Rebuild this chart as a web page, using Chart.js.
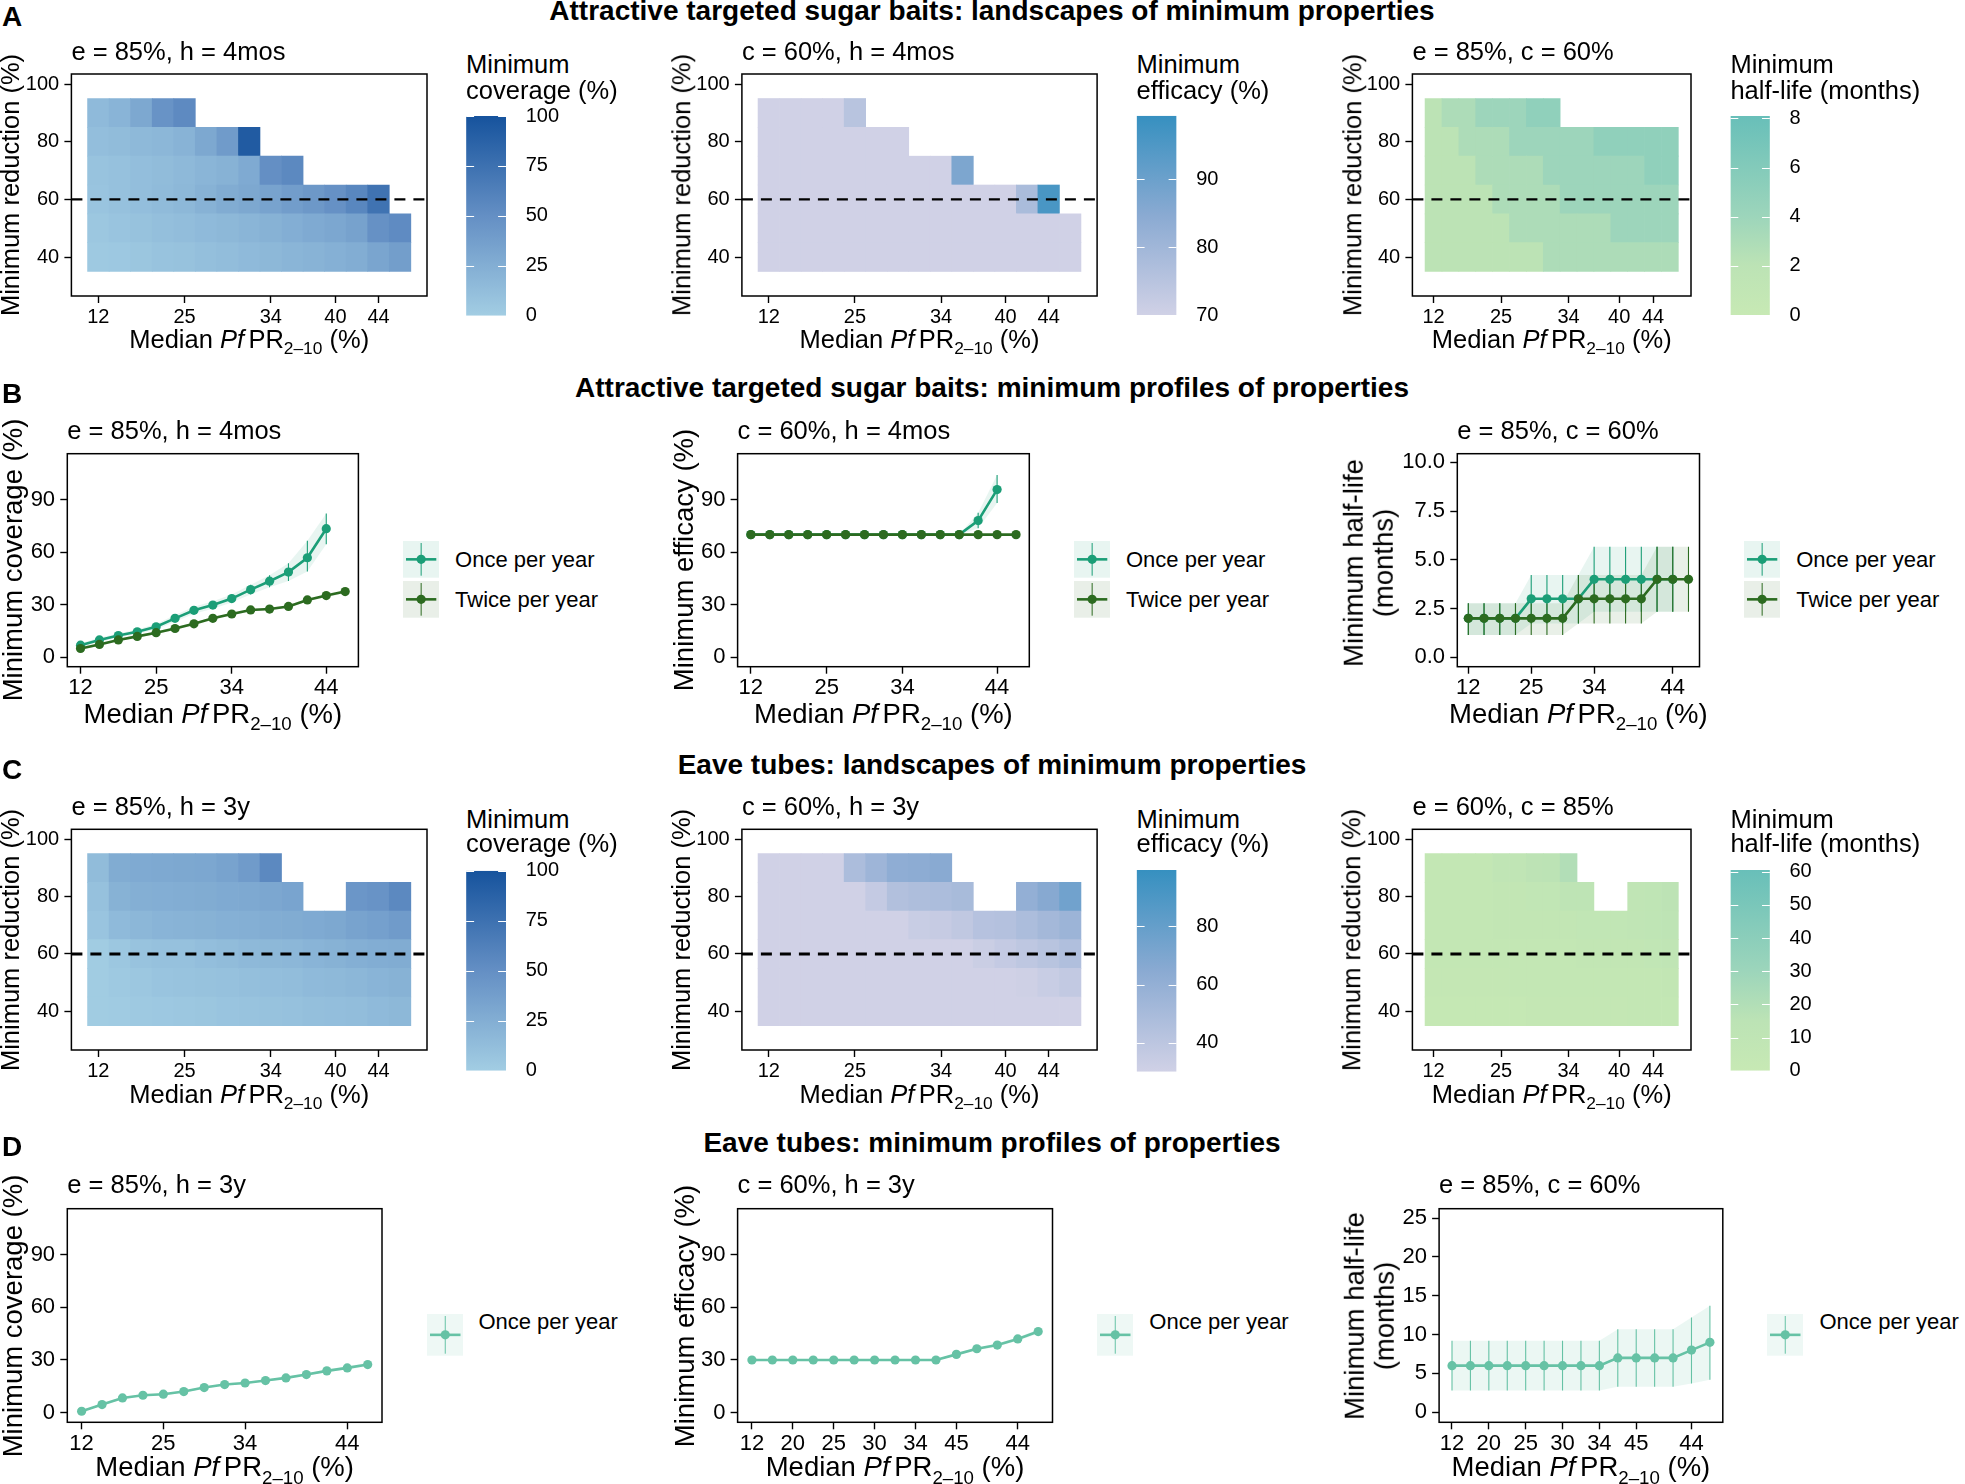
<!DOCTYPE html>
<html><head><meta charset="utf-8">
<script src="https://cdn.jsdelivr.net/npm/chart.js@4.4.1/dist/chart.umd.min.js"></script>
<style>
html,body{margin:0;padding:0;background:#fff}
body{width:1965px;height:1484px;position:relative;overflow:hidden;font-family:"Liberation Sans",Arial,Helvetica,sans-serif;color:#000}
.t{position:absolute;white-space:nowrap;line-height:1}
canvas{position:absolute}
</style></head><body>
<script>
// ================= DATA =================
const reductionLevels = [40, 50, 60, 70, 80, 90];
const reductionStep = 10;
const reductionTarget = 60;
const heatYTicks = [40, 60, 80, 100];
const heatXTickIdx = [0, 4, 8, 11, 13];
const heatXTickLabels = ['12', '25', '34', '40', '44'];
const profXTickIdx = [0, 4, 8, 13];
const profXTickLabels = ['12', '25', '34', '44'];
const eaveXTickIdx = [0, 2, 4, 6, 8, 10, 13];
const eaveXTickLabels = ['12', '20', '25', '30', '34', '45', '44'];
const seriesNames = ['Once per year', 'Twice per year'];
const _ = null;

// A: ATSB landscapes (rows = reduction 40..90, columns = settings 0..14)
const atsbCoverageGrid = [
  [3, 4, 6, 8, 9, 11, 13, 15, 17, 19, 21, 23, 26, 32, 38],
  [5, 7, 9, 11, 13, 15, 17, 19, 22, 25, 28, 31, 35, 48, 53],
  [7, 10, 12, 14.5, 17, 22, 27, 30, 33.5, 38.6, 43, 48.6, 57, 73],
  [8, 10, 12, 14, 16, 19, 22, 28, 50, 55],
  [12, 14, 16, 18, 21, 30, 40, 93],
  [15, 20, 30, 47, 54]
];
const atsbEfficacyGrid = [
  [70, 70, 70, 70, 70, 70, 70, 70, 70, 70, 70, 70, 70, 70, 70],
  [70, 70, 70, 70, 70, 70, 70, 70, 70, 70, 70, 70, 70, 70, 70],
  [70, 70, 70, 70, 70, 70, 70, 70, 70, 70, 70, 70, 78, 96],
  [70, 70, 70, 70, 70, 70, 70, 70, 70, 87],
  [70, 70, 70, 70, 70, 70, 70],
  [70, 70, 70, 70, 75]
];
const atsbHalfLifeGrid = [
  [2, 2, 2, 2, 2, 2, 2, 3, 3, 3, 3, 3, 3, 3, 3],
  [2, 2, 2, 2, 2, 3, 3, 3, 3, 3, 3, 4, 4, 4, 4],
  [2, 2, 2, 2, 3, 3, 3, 3, 4, 4, 4, 4, 4, 4, 4],
  [2, 2, 2, 3, 3, 3, 3, 4, 4, 4, 4, 4, 4, 5, 5],
  [2, 2, 3, 3, 3, 4, 4, 4, 4, 4, 5, 5, 5, 5, 5],
  [2, 3, 3, 4, 4, 4, 5, 5]
];
// C: Eave tube landscapes
const eaveCoverageGrid = [
  [1, 2, 3, 4, 5, 6, 7, 8, 9, 10, 11, 12, 13, 15, 17],
  [1, 3, 5, 7, 8, 9, 10, 11, 12, 13, 15, 16, 18, 20, 22],
  [1, 5, 8, 10, 10, 12, 14, 16, 17, 18, 20, 22, 24, 26, 27],
  [7, 15, 18, 20, 21, 22, 23, 24, 26, 27, 28, 30, 34, 36, 40],
  [10, 22, 24, 25, 26, 27, 28, 29, 31, 33, _, _, 44, 47, 55],
  [14, 27, 28, 29, 30, 31, 34, 40, 55]
];
const eaveEfficacyGrid = [
  [30, 30, 30, 30, 30, 30, 30, 30, 30, 30, 30, 30, 30, 30, 30],
  [30, 30, 30, 30, 30, 30, 30, 30, 30, 30, 30, 30, 31, 34, 37],
  [30, 30, 30, 30, 30, 30, 30, 30, 30, 30, 33, 36, 39, 42, 46],
  [30, 30, 30, 30, 30, 30, 30, 34, 35, 38, 43, 44, 48, 52, 56],
  [30, 30, 30, 30, 30, 36, 45, 47, 48, 50, _, _, 60, 66, 75],
  [30, 30, 30, 30, 48, 55, 62, 63, 65]
];
const eaveHalfLifeGrid = [
  [3, 3, 3, 3, 3, 3, 4, 4, 4, 4, 4, 4, 5, 5, 5],
  [4, 4, 4, 4, 4, 5, 5, 5, 5, 5, 5, 6, 6, 6, 7],
  [6, 6, 6, 6, 6, 6, 6, 6, 6, 7, 7, 7, 7, 8, 9],
  [6, 6, 6, 6, 7, 7, 7, 7, 7, 8, 8, 8, 9, 11, 12],
  [6, 6, 6, 6, 7, 7, 8, 8, 12, 13, _, _, 10, 11, 14],
  [6, 6, 6, 6, 9, 10, 14, 15, 20]
];

// colour bar limits and ticks
const coverageLimits = [0, 100], coverageBarTicks = [0, 25, 50, 75, 100];
const atsbEffLimits = [70, 99.4], atsbEffBarTicks = [70, 80, 90];
const atsbHlLimits = [0, 8.1], atsbHlBarTicks = [0, 2, 4, 6, 8];
const eaveEffLimits = [30, 99.4], eaveEffBarTicks = [40, 60, 80];
const eaveHlLimits = [0, 60.5], eaveHlBarTicks = [0, 10, 20, 30, 40, 50, 60];

// B: ATSB minimum profiles
const atsbCovOnce   = [6.9, 9.9, 12.4, 14.5, 17.4, 22.2, 26.8, 29.8, 33.5, 38.6, 43.4, 48.6, 56.8, 73.4];
const atsbCovOnceLo = [5.8, 8.7, 11.2, 13.2, 15.8, 20.3, 24.8, 27.7, 31.2, 35.8, 40.0, 43.5, 49.0, 64.5];
const atsbCovOnceHi = [8.0, 11.1, 13.6, 15.8, 19.0, 24.1, 28.8, 31.9, 35.8, 41.4, 46.8, 53.7, 66.5, 82.0];
const atsbCovTwice   = [5.0, 7.3, 9.9, 11.9, 14.0, 16.4, 19.1, 22.2, 24.7, 27.0, 27.5, 29.0, 32.7, 35.2, 37.5];
const atsbCovTwiceLo = [4.2, 6.5, 9.1, 11.1, 13.2, 15.6, 18.3, 21.4, 23.9, 26.2, 26.7, 28.2, 31.8, 34.3, 36.5];
const atsbCovTwiceHi = [5.8, 8.1, 10.7, 12.7, 14.8, 17.2, 19.9, 23.0, 25.5, 27.8, 28.3, 29.8, 33.6, 36.1, 38.5];
const atsbEffOnce   = [70, 70, 70, 70, 70, 70, 70, 70, 70, 70, 70, 70, 78, 95.7];
const atsbEffOnceLo = [70, 70, 70, 70, 70, 70, 70, 70, 70, 70, 70, 70, 73.6, 88];
const atsbEffOnceHi = [70, 70, 70, 70, 70, 70, 70, 70, 70, 70, 70, 70, 82.5, 104];
const atsbEffTwice   = [70, 70, 70, 70, 70, 70, 70, 70, 70, 70, 70, 70, 70, 70, 70];
const atsbEffTwiceLo = [70, 70, 70, 70, 70, 70, 70, 70, 70, 70, 70, 70, 70, 70, 70];
const atsbEffTwiceHi = [70, 70, 70, 70, 70, 70, 70, 70, 70, 70, 70, 70, 70, 70, 70];
const atsbHlOnce   = [2, 2, 2, 2, 3, 3, 3, 3, 4, 4, 4, 4, 4, 4];
const atsbHlOnceLo = [1.15, 1.15, 1.15, 1.15, 1.74, 1.74, 1.74, 1.74, 2.34, 2.34, 2.34, 2.34, 2.34, 2.34];
const atsbHlOnceHi = [2.77, 2.77, 2.77, 2.77, 4.22, 4.22, 4.22, 4.22, 5.67, 5.67, 5.67, 5.67, 5.67, 5.67];
const atsbHlTwice   = [2, 2, 2, 2, 2, 2, 2, 3, 3, 3, 3, 3, 4, 4, 4];
const atsbHlTwiceLo = [1.15, 1.15, 1.15, 1.15, 1.15, 1.15, 1.15, 1.74, 1.74, 1.74, 1.74, 1.74, 2.34, 2.34, 2.34];
const atsbHlTwiceHi = [2.77, 2.77, 2.77, 2.77, 2.77, 2.77, 2.77, 4.22, 4.22, 4.22, 4.22, 4.22, 5.67, 5.67, 5.67];

// D: Eave tube minimum profiles
const eaveCovOnce   = [0.8, 4.6, 8.4, 9.9, 10.5, 12.0, 14.3, 16.0, 16.9, 18.3, 19.8, 21.7, 23.8, 25.5, 27.4];
const eaveCovOnceLo = [0.2, 4.0, 7.8, 9.3, 9.9, 11.4, 13.7, 15.4, 16.3, 17.7, 19.2, 21.0, 23.0, 24.6, 26.4];
const eaveCovOnceHi = [1.4, 5.2, 9.0, 10.5, 11.1, 12.6, 14.9, 16.6, 17.5, 18.9, 20.4, 22.4, 24.6, 26.4, 28.4];
const eaveEffOnce   = [30, 30, 30, 30, 30, 30, 30, 30, 30, 30, 33.2, 36.4, 38.5, 42.0, 46.2];
const eaveEffOnceLo = [29.6, 29.6, 29.6, 29.6, 29.6, 29.6, 29.6, 29.6, 29.6, 29.6, 32.5, 35.6, 37.6, 41.0, 45.0];
const eaveEffOnceHi = [30.4, 30.4, 30.4, 30.4, 30.4, 30.4, 30.4, 30.4, 30.4, 30.4, 33.9, 37.2, 39.4, 43.0, 47.4];
const eaveHlOnce   = [6, 6, 6, 6, 6, 6, 6, 6, 6, 7, 7, 7, 7, 8, 9];
const eaveHlOnceLo = [2.8, 2.8, 2.8, 2.8, 2.8, 2.8, 2.8, 2.8, 2.8, 3.3, 3.3, 3.3, 3.3, 3.7, 4.2];
const eaveHlOnceHi = [9.2, 9.2, 9.2, 9.2, 9.2, 9.2, 9.2, 9.2, 9.2, 10.7, 10.7, 10.7, 10.7, 12.2, 13.7];

// ================= STYLE / LAYOUT =================
const SANS = '"Liberation Sans", Arial, Helvetica, sans-serif';
Chart.defaults.font.family = SANS;
Chart.defaults.color = '#000';
const COL_ONCE = '#1b9e77', COL_TWICE = '#2c6b20', COL_EAVE = '#66c2a5';
const FILL_ONCE = 'rgba(27,158,119,0.10)', FILL_TWICE = 'rgba(44,107,32,0.10)', FILL_EAVE = 'rgba(102,194,165,0.13)';
const KEY_ONCE = '#e8f5f1', KEY_TWICE = '#e9efe8', KEY_EAVE = '#eef8f5';
const BLUES = [[0, [162, 205, 227]], [0.5, [100, 143, 196]], [1, [22, 83, 157]]];
const PUBU = [[0, [208, 209, 230]], [0.5, [138, 170, 210]], [1, [54, 144, 192]]];
const GRNS = [[0, [199, 233, 180]], [0.25, [188, 227, 181]], [0.5, [156, 213, 187]], [1, [104, 191, 185]]];

const boxes = {
  A1: [71.4, 427, 74, 296], A2: [741.9, 1097.1, 74, 296], A3: [1412.4, 1691, 74, 296],
  B1: [67.3, 358.4, 453.7, 666.7], B2: [737.6, 1029.3, 453.7, 666.7], B3: [1457.3, 1699.5, 453.7, 666.7],
  C1: [71.4, 427, 829.3, 1050], C2: [741.9, 1097.1, 829.3, 1050], C3: [1412.4, 1691, 829.3, 1050],
  D1: [67.3, 382, 1208.7, 1422.3], D2: [737.6, 1052.5, 1208.7, 1422.3], D3: [1439.1, 1722.8, 1208.7, 1422.3]
};

function mix(stops, t) {
  t = Math.max(0, Math.min(1, t));
  for (let k = 1; k < stops.length; k++) {
    if (t <= stops[k][0]) {
      const [t0, c0] = stops[k - 1], [t1, c1] = stops[k];
      const u = (t - t0) / (t1 - t0);
      return 'rgb(' + c0.map((c, j) => Math.round(c + (c1[j] - c) * u)).join(',') + ')';
    }
  }
  return 'rgb(' + stops[stops.length - 1][1].join(',') + ')';
}
function colorFor(v, lim, stops) { return mix(stops, (v - lim[0]) / (lim[1] - lim[0])); }

function mkCanvas(left, top, w, h) {
  const c = document.createElement('canvas');
  c.width = w; c.height = h;
  c.style.left = left + 'px'; c.style.top = top + 'px';
  c.style.width = w + 'px'; c.style.height = h + 'px';
  document.body.appendChild(c);
  return c;
}
const boxPlugin = {
  id: 'boxBorder',
  afterDraw(chart) {
    const { ctx, chartArea: a } = chart;
    ctx.save(); ctx.strokeStyle = '#000'; ctx.lineWidth = 1.5;
    ctx.strokeRect(a.left, a.top, a.right - a.left, a.bottom - a.top);
    ctx.restore();
  }
};
const whiteTicks = {
  id: 'whiteTicks',
  afterDatasetsDraw(chart) {
    const { ctx, chartArea: a, scales: { y } } = chart;
    const L = (a.right - a.left) / 5;
    ctx.save(); ctx.strokeStyle = '#fff'; ctx.lineWidth = 1;
    y.ticks.forEach(t => {
      const py = Math.round(y.getPixelForValue(t.value)) + 0.5;
      ctx.beginPath();
      ctx.moveTo(a.left, py); ctx.lineTo(a.left + L, py);
      ctx.moveTo(a.right - L, py); ctx.lineTo(a.right, py);
      ctx.stroke();
    });
    ctx.restore();
  }
};

function panelChart(box, o) {
  const left = Math.floor(box[0] - 80), top = Math.floor(box[2] - 24);
  const w = Math.ceil(box[1] + 26) - left, h = Math.ceil(box[3] + 56) - top;
  const padL = box[0] - left, padT = box[2] - top, padR = w - (box[1] - left), padB = h - (box[3] - top);
  const c = mkCanvas(left, top, w, h);
  const gridOpts = { display: true, offset: false, drawOnChartArea: false, drawTicks: true, tickLength: 7, tickWidth: 1.4, tickColor: '#000' };
  return new Chart(c, {
    type: 'line',
    data: { datasets: o.datasets },
    options: {
      responsive: false, animation: false, events: [],
      layout: { padding: { top: padT, right: padR, left: 0, bottom: 0 } },
      plugins: { legend: { display: false }, tooltip: { enabled: false } },
      scales: {
        x: {
          type: 'linear', min: o.xMin, max: o.xMax, offset: false, bounds: 'data',
          afterBuildTicks: s => { s.ticks = o.xTicks.map(v => ({ value: v })); },
          afterFit: s => { s.height = padB; },
          ticks: { autoSkip: false, maxRotation: 0, minRotation: 0, padding: o.xPad, font: { size: o.tickSize }, color: '#000',
                   callback: v => o.xLabels[o.xTicks.indexOf(v)] },
          grid: gridOpts, border: { display: false }
        },
        y: {
          type: 'linear', min: o.yMin, max: o.yMax, offset: false, beginAtZero: false,
          afterBuildTicks: s => { s.ticks = o.yTicks.map(v => ({ value: v })); },
          afterFit: s => { s.width = padL; },
          ticks: { autoSkip: false, padding: 5.2, font: { size: o.tickSize }, color: '#000',
                   callback: v => o.yFmt ? o.yFmt(v) : String(v) },
          grid: gridOpts, border: { display: false }
        }
      }
    },
    plugins: [boxPlugin]
  });
}

const heatX = [-1.25, 15.25], heatY = [26.5, 103.5];
function heatmap(box, grid, lim, stops, dashW) {
  const ds = [{
    type: 'line', data: [{ x: heatX[0], y: reductionTarget }, { x: heatX[1], y: reductionTarget }],
    borderColor: '#000', borderWidth: dashW, borderDash: [11, 8], pointRadius: 0, fill: false, order: 0
  }];
  reductionLevels.forEach((lvl, r) => {
    const data = [], colors = [];
    grid[r].forEach((v, i) => {
      if (v === null || v === undefined) return;
      data.push({ x: i, y: [lvl - reductionStep / 2, lvl + reductionStep / 2] });
      colors.push(colorFor(v, lim, stops));
    });
    ds.push({ type: 'bar', data, backgroundColor: colors, borderWidth: 0, grouped: false,
              barPercentage: 1, categoryPercentage: 1, order: 5 });
  });
  panelChart(box, { datasets: ds, xMin: heatX[0], xMax: heatX[1], yMin: heatY[0], yMax: heatY[1],
    xTicks: heatXTickIdx, xLabels: heatXTickLabels, yTicks: heatYTicks, tickSize: 20, xPad: 2.3 });
}

function colorbar(bar, lim, ticks, stops) {
  const [x0, x1, y0, y1] = bar;
  const left = Math.floor(x0) - 2, top = Math.floor(y0 - 34);
  const w = Math.ceil(x1 + 64) - left, h = Math.ceil(y1 + 34) - top;
  const padL = x0 - left, padT = y0 - top, axisW = w - (x1 - left), padB = h - (y1 - top);
  const c = mkCanvas(left, top, w, h);
  new Chart(c, {
    type: 'bar',
    data: { labels: [''], datasets: [{
      data: [lim],
      backgroundColor: ctx => {
        const a = ctx.chart.chartArea; if (!a) return null;
        const g = ctx.chart.ctx.createLinearGradient(0, a.bottom, 0, a.top);
        stops.forEach(([t, col]) => g.addColorStop(t, 'rgb(' + col.join(',') + ')'));
        return g;
      },
      borderWidth: 0, barPercentage: 1, categoryPercentage: 1, inflateAmount: 0
    }] },
    options: {
      responsive: false, animation: false, events: [],
      layout: { padding: { left: padL, top: padT, bottom: padB, right: 0 } },
      plugins: { legend: { display: false }, tooltip: { enabled: false } },
      scales: {
        x: { display: false },
        y: { position: 'right', min: lim[0], max: lim[1], beginAtZero: false,
             afterBuildTicks: s => { s.ticks = ticks.map(v => ({ value: v })); },
             afterFit: s => { s.width = axisW; },
             ticks: { padding: 11.6, font: { size: 20 }, color: '#000' },
             grid: { display: false }, border: { display: false } }
      }
    },
    plugins: [whiteTicks]
  });
}

function series(values, lo, hi, color, fill, orderBase, idxOffset) {
  const pts = a => a.map((v, i) => ({ x: i, y: v }));
  return [
    { type: 'line', data: pts(lo), borderWidth: 0, pointRadius: 0, fill: false, order: 20 + orderBase },
    { type: 'line', data: pts(hi), borderWidth: 0, pointRadius: 0, fill: idxOffset, backgroundColor: fill, order: 20 + orderBase },
    { type: 'bar', data: lo.map((l, i) => ({ x: i, y: [l, hi[i]] })), backgroundColor: color, borderWidth: 0,
      grouped: false, maxBarThickness: 1.1, inflateAmount: 0, order: 10 + orderBase },
    { type: 'line', data: pts(values), borderColor: color, backgroundColor: color, borderWidth: 2.6,
      pointRadius: 4.6, pointBorderWidth: 0, pointBackgroundColor: color, fill: false, order: orderBase }
  ];
}
function profile(box, list, yMin, yMax, yTicks, xTicks, xLabels, yFmt) {
  let ds = [];
  list.forEach(s => { ds = ds.concat(series(s[0], s[1], s[2], s[3], s[4], s[5], ds.length)); });
  panelChart(box, { datasets: ds, xMin: -0.7, xMax: 14.7, yMin, yMax, xTicks, xLabels, yTicks, yFmt, tickSize: 22, xPad: 1 });
}

// ================= TEXT HELPERS =================
function txt(html, x, base, size, o = {}) {
  const d = document.createElement('div');
  d.className = 't'; d.innerHTML = html;
  d.style.fontSize = size + 'px';
  d.style.top = (base - 0.8465 * size) + 'px';
  d.style.left = x + 'px';
  if (o.bold) d.style.fontWeight = 'bold';
  if (o.center) d.style.transform = 'translateX(-50%)';
  document.body.appendChild(d);
}
function vtxt(html, cx, cy, size, lh) {
  const d = document.createElement('div');
  d.className = 't'; d.innerHTML = html;
  d.style.fontSize = size + 'px'; d.style.textAlign = 'center';
  if (lh) d.style.lineHeight = lh;
  d.style.left = cx + 'px'; d.style.top = cy + 'px';
  d.style.transform = 'translate(-50%,-50%) rotate(-90deg)';
  document.body.appendChild(d);
}
function key(x, y, w, h, color, bg) {
  const d = document.createElement('div');
  d.style.cssText = `position:absolute;left:${x}px;top:${y}px;width:${w}px;height:${h}px`;
  d.innerHTML = `<svg width="${w}" height="${h}"><rect width="${w}" height="${h}" fill="${bg}"/>` +
    `<line x1="${w / 2}" y1="2" x2="${w / 2}" y2="${h - 2}" stroke="${color}" stroke-width="1"/>` +
    `<line x1="3" y1="${h / 2}" x2="${w - 3}" y2="${h / 2}" stroke="${color}" stroke-width="2.6"/>` +
    `<circle cx="${w / 2}" cy="${h / 2}" r="4.6" fill="${color}"/></svg>`;
  document.body.appendChild(d);
}
const XTITLE = 'Median <i>Pf</i><span style="margin-left:0.17em">PR</span><span style="font-size:0.68em;position:relative;top:0.38em">2–10</span> (%)';
const mid = b => (b[0] + b[1]) / 2, vmid = b => (b[2] + b[3]) / 2;

// ================= DRAW =================
// Row A
heatmap(boxes.A1, atsbCoverageGrid, coverageLimits, BLUES, 2.4);
heatmap(boxes.A2, atsbEfficacyGrid, atsbEffLimits, PUBU, 2.4);
heatmap(boxes.A3, atsbHalfLifeGrid, atsbHlLimits, GRNS, 2.4);
colorbar([466.1, 506.1, 116, 315.7], coverageLimits, coverageBarTicks, BLUES);
colorbar([1136.6, 1176.6, 115.7, 315], atsbEffLimits, atsbEffBarTicks, PUBU);
colorbar([1730.4, 1769.9, 116, 315], atsbHlLimits, atsbHlBarTicks, GRNS);
// Row B
profile(boxes.B1, [[atsbCovOnce, atsbCovOnceLo, atsbCovOnceHi, COL_ONCE, FILL_ONCE, 1],
                   [atsbCovTwice, atsbCovTwiceLo, atsbCovTwiceHi, COL_TWICE, FILL_TWICE, 0]],
        -5.4, 116.2, [0, 30, 60, 90], profXTickIdx, profXTickLabels);
profile(boxes.B2, [[atsbEffOnce, atsbEffOnceLo, atsbEffOnceHi, COL_ONCE, FILL_ONCE, 1],
                   [atsbEffTwice, atsbEffTwiceLo, atsbEffTwiceHi, COL_TWICE, FILL_TWICE, 0]],
        -5.4, 116.2, [0, 30, 60, 90], profXTickIdx, profXTickLabels);
profile(boxes.B3, [[atsbHlOnce, atsbHlOnceLo, atsbHlOnceHi, COL_ONCE, FILL_ONCE, 1],
                   [atsbHlTwice, atsbHlTwiceLo, atsbHlTwiceHi, COL_TWICE, FILL_TWICE, 0]],
        -0.48, 10.44, [0, 2.5, 5, 7.5, 10], profXTickIdx, profXTickLabels, v => v.toFixed(1));
// Row C
heatmap(boxes.C1, eaveCoverageGrid, coverageLimits, BLUES, 3);
heatmap(boxes.C2, eaveEfficacyGrid, eaveEffLimits, PUBU, 3);
heatmap(boxes.C3, eaveHalfLifeGrid, eaveHlLimits, GRNS, 3);
colorbar([466.1, 506.1, 870.7, 1070.7], coverageLimits, coverageBarTicks, BLUES);
colorbar([1136.6, 1176.6, 870, 1071.7], eaveEffLimits, eaveEffBarTicks, PUBU);
colorbar([1730.4, 1769.9, 870, 1070.7], eaveHlLimits, eaveHlBarTicks, GRNS);
// Row D
profile(boxes.D1, [[eaveCovOnce, eaveCovOnceLo, eaveCovOnceHi, COL_EAVE, FILL_EAVE, 0]],
        -5.5, 116.2, [0, 30, 60, 90], profXTickIdx, profXTickLabels);
profile(boxes.D2, [[eaveEffOnce, eaveEffOnceLo, eaveEffOnceHi, COL_EAVE, FILL_EAVE, 0]],
        -5.5, 116.2, [0, 30, 60, 90], eaveXTickIdx, eaveXTickLabels);
profile(boxes.D3, [[eaveHlOnce, eaveHlOnceLo, eaveHlOnceHi, COL_EAVE, FILL_EAVE, 0]],
        -1.29, 26.2, [0, 5, 10, 15, 20, 25], eaveXTickIdx, eaveXTickLabels);

// ---- text ----
const TITLE = 28;
txt('A', 2, 26.7, 28, { bold: true });
txt('B', 2, 403.3, 28, { bold: true });
txt('C', 2, 780, 28, { bold: true });
txt('D', 2, 1156.7, 28, { bold: true });
txt('Attractive targeted sugar baits: landscapes of minimum properties', 992, 20.7, TITLE, { bold: true, center: true });
txt('Attractive targeted sugar baits: minimum profiles of properties', 992, 397.3, TITLE, { bold: true, center: true });
txt('Eave tubes: landscapes of minimum properties', 992, 775, TITLE, { bold: true, center: true });
txt('Eave tubes: minimum profiles of properties', 992, 1152.3, TITLE, { bold: true, center: true });

const SUB = 25.5;
txt('e = 85%, h = 4mos', boxes.A1[0], 61, SUB);
txt('c = 60%, h = 4mos', boxes.A2[0], 61, SUB);
txt('e = 85%, c = 60%', boxes.A3[0], 61, SUB);
txt('e = 85%, h = 4mos', boxes.B1[0], 440, SUB);
txt('c = 60%, h = 4mos', boxes.B2[0], 440, SUB);
txt('e = 85%, c = 60%', boxes.B3[0], 440, SUB);
txt('e = 85%, h = 3y', boxes.C1[0], 815.5, SUB);
txt('c = 60%, h = 3y', boxes.C2[0], 815.5, SUB);
txt('e = 60%, c = 85%', boxes.C3[0], 815.5, SUB);
txt('e = 85%, h = 3y', boxes.D1[0], 1194, SUB);
txt('c = 60%, h = 3y', boxes.D2[0], 1194, SUB);
txt('e = 85%, c = 60%', boxes.D3[0], 1194, SUB);

// axis titles
const AT_H = 25.5, AT_P = 27.5;
[['A1', 10.8], ['A2', 682], ['A3', 1352.6], ['C1', 11.2], ['C2', 682], ['C3', 1352.4]].forEach(([k, cx]) => {
  vtxt('Minimum reduction (%)', cx, vmid(boxes[k]), AT_H);
});
txt(XTITLE, mid(boxes.A1), 348.3, AT_H, { center: true });
txt(XTITLE, mid(boxes.A2), 348.3, AT_H, { center: true });
txt(XTITLE, mid(boxes.A3), 348.3, AT_H, { center: true });
txt(XTITLE, mid(boxes.C1), 1103.3, AT_H, { center: true });
txt(XTITLE, mid(boxes.C2), 1103.3, AT_H, { center: true });
txt(XTITLE, mid(boxes.C3), 1103.3, AT_H, { center: true });

vtxt('Minimum coverage (%)', 13.3, vmid(boxes.B1), AT_P);
vtxt('Minimum efficacy (%)', 683.8, vmid(boxes.B2), AT_P);
vtxt('Minimum half-life<br>(months)', 1369, 563, AT_P, 1.1);
vtxt('Minimum coverage (%)', 13, vmid(boxes.D1), AT_P);
vtxt('Minimum efficacy (%)', 684.8, vmid(boxes.D2), AT_P);
vtxt('Minimum half-life<br>(months)', 1370, vmid(boxes.D3), AT_P, 1.1);
txt(XTITLE, mid(boxes.B1), 723.3, AT_P, { center: true });
txt(XTITLE, mid(boxes.B2), 723.3, AT_P, { center: true });
txt(XTITLE, mid(boxes.B3), 723.3, AT_P, { center: true });
txt(XTITLE, mid(boxes.D1), 1476.7, AT_P, { center: true });
txt(XTITLE, mid(boxes.D2), 1476.7, AT_P, { center: true });
txt(XTITLE, mid(boxes.D3), 1476.7, AT_P, { center: true });

// colour bar titles
const CBT = 25.5;
txt('Minimum', 466.1, 74, CBT); txt('coverage (%)', 466.1, 100, CBT);
txt('Minimum', 1136.6, 74, CBT); txt('efficacy (%)', 1136.6, 100, CBT);
txt('Minimum', 1730.4, 74, CBT); txt('half-life (months)', 1730.4, 100, CBT);
txt('Minimum', 466.1, 828.3, CBT); txt('coverage (%)', 466.1, 852.5, CBT);
txt('Minimum', 1136.6, 828.3, CBT); txt('efficacy (%)', 1136.6, 852.5, CBT);
txt('Minimum', 1730.4, 828.3, CBT); txt('half-life (months)', 1730.4, 852.5, CBT);

// legends
const LEG = 22;
[[402.9, 455.1], [1073.5, 1126], [1744, 1796.2]].forEach(([kx, lx]) => {
  key(kx, 541, 36.3, 36.7, COL_ONCE, KEY_ONCE);
  key(kx, 581, 36.3, 36.7, COL_TWICE, KEY_TWICE);
  txt(seriesNames[0], lx, 567.3, LEG);
  txt(seriesNames[1], lx, 607.3, LEG);
});
[[426.5, 478.4], [1096.6, 1149.3], [1766.5, 1819.5]].forEach(([kx, lx]) => {
  key(kx, 1314, 36.5, 41.7, COL_EAVE, KEY_EAVE);
  txt(seriesNames[0], lx, 1330, LEG);
});
</script>
</body></html>
